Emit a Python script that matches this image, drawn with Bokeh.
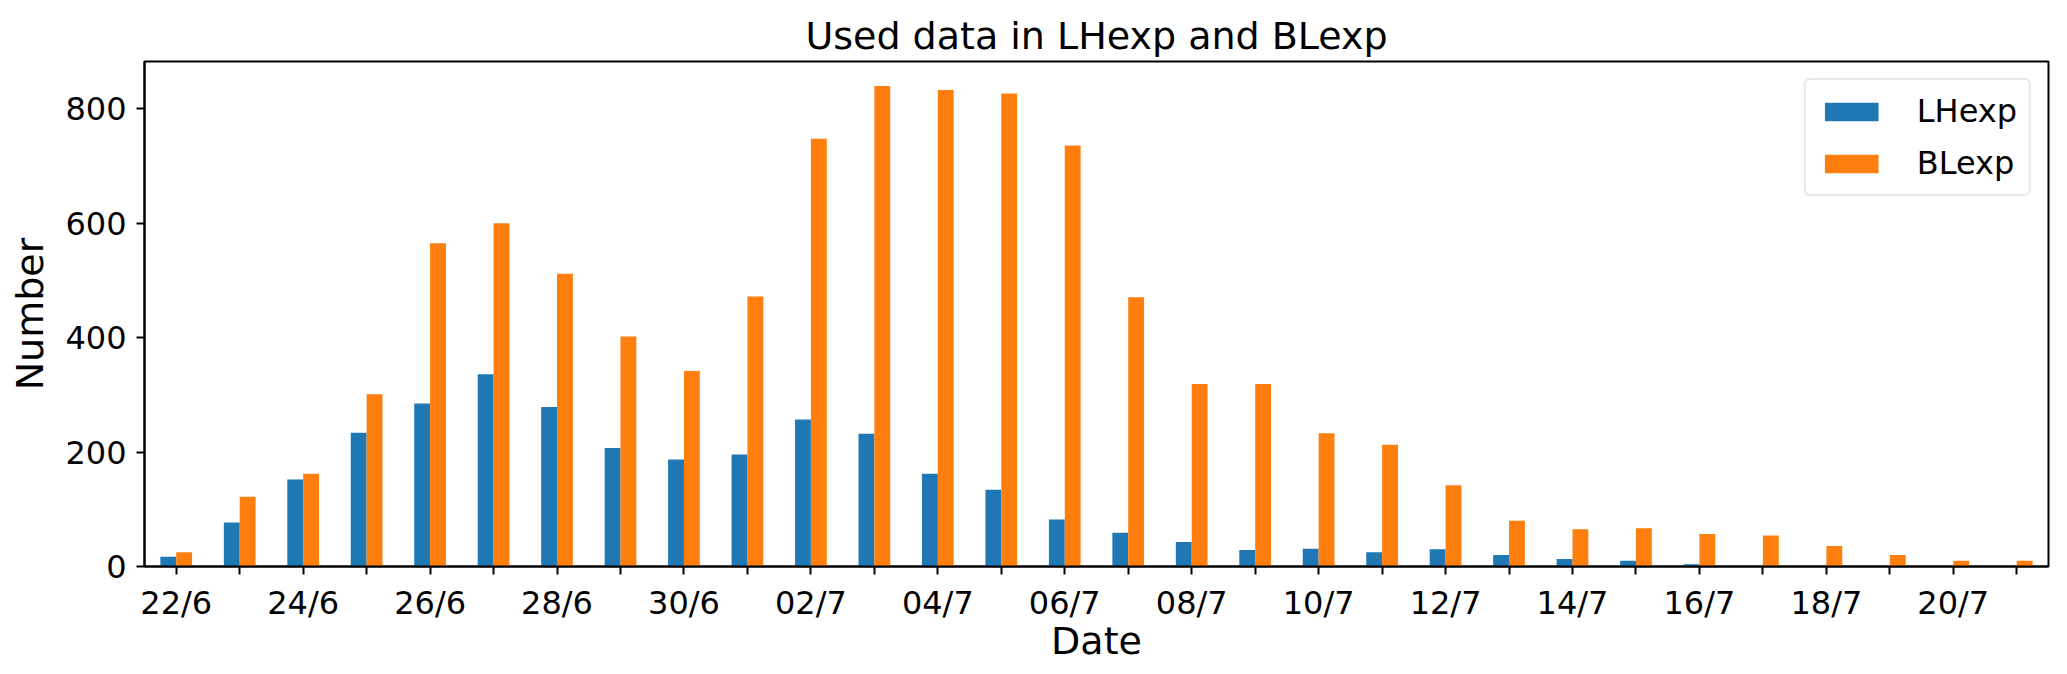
from bokeh.plotting import figure
from bokeh.models import Range1d, FixedTicker, ColumnDataSource
from bokeh.transform import dodge
from bokeh.embed import file_html
from bokeh.resources import INLINE

dates = ["22/6", "23/6", "24/6", "25/6", "26/6", "27/6", "28/6", "29/6", "30/6",
         "01/7", "02/7", "03/7", "04/7", "05/7", "06/7", "07/7", "08/7", "09/7",
         "10/7", "11/7", "12/7", "13/7", "14/7", "15/7", "16/7", "17/7", "18/7",
         "19/7", "20/7", "21/7"]
lhexp = [17, 77, 152, 234, 285, 336, 279, 207, 187, 196, 257, 232, 162, 134, 82,
         59, 43, 29, 31, 25, 30, 20, 13, 10, 4, 0, 0, 0, 0, 0]
blexp = [25, 122, 162, 301, 565, 600, 512, 402, 342, 472, 748, 840, 833, 827, 736,
         471, 319, 319, 233, 213, 142, 80, 65, 67, 57, 54, 36, 20, 10, 10]
y_ticks = [0, 200, 400, 600, 800]

FONT = "DejaVu Sans"
BLUE = "#1f77b4"
ORANGE = "#ff7f0e"

x = list(range(len(dates)))
src = ColumnDataSource(dict(x=x, lh=lhexp, bl=blexp))

p = figure(frame_width=1904, frame_height=505, output_backend="svg", toolbar_location=None,
           x_range=Range1d(-0.5, len(dates) - 0.5), y_range=Range1d(0, 883),
           min_border_left=144, min_border_right=19, min_border_top=61,
           min_border_bottom=108, title="Used data in LHexp and BLexp")

p.vbar(x=dodge("x", -0.125), top="lh", width=0.25, source=src, fill_color=BLUE,
       line_color=None, legend_label="LHexp")
p.vbar(x=dodge("x", 0.125), top="bl", width=0.25, source=src, fill_color=ORANGE,
       line_color=None, legend_label="BLexp")

p.title.text_font = FONT
p.title.text_font_size = "38px"
p.title.text_font_style = "normal"
p.title.align = "center"
p.title.text_color = "black"
p.title.standoff = 8

p.xgrid.visible = False
p.ygrid.visible = False
p.outline_line_color = "black"
p.outline_line_width = 2
p.background_fill_color = "white"
p.border_fill_color = "white"

for ax in (p.xaxis[0], p.yaxis[0]):
    ax.axis_line_width = 2
    ax.axis_line_color = "black"
    ax.major_tick_line_width = 2
    ax.major_tick_line_color = "black"
    ax.major_tick_out = 8
    ax.major_tick_in = 0
    ax.minor_tick_line_color = None
    ax.major_label_text_font = FONT
    ax.major_label_text_font_size = "32px"
    ax.major_label_text_color = "black"
    ax.axis_label_text_font = FONT
    ax.axis_label_text_font_size = "38px"
    ax.axis_label_text_font_style = "normal"
    ax.axis_label_text_color = "black"

p.xaxis[0].ticker = FixedTicker(ticks=x)
p.xaxis[0].major_label_overrides = {i: (d if i % 2 == 0 else "") for i, d in zip(x, dates)}
p.xaxis[0].axis_label = "Date"
p.xaxis[0].major_label_standoff = 9
p.xaxis[0].axis_label_standoff = -6

p.yaxis[0].ticker = FixedTicker(ticks=y_ticks)
p.yaxis[0].axis_label = "Number"
p.yaxis[0].major_label_standoff = 10
p.yaxis[0].axis_label_standoff = 10

lg = p.legend[0]
lg.location = "top_right"
lg.margin = 17
lg.padding = 12
lg.spacing = 14
lg.glyph_width = 67
lg.glyph_height = 23
lg.label_height = 35
lg.label_standoff = 32
lg.label_text_font = FONT
lg.label_text_font_size = "32px"
lg.label_text_color = "black"
lg.border_line_color = "#d0d0d0"
lg.border_line_width = 2
lg.background_fill_alpha = 0.8
if "border_radius" in lg.properties():
    lg.border_radius = 6

open("out.html", "w").write(file_html(p, INLINE))
